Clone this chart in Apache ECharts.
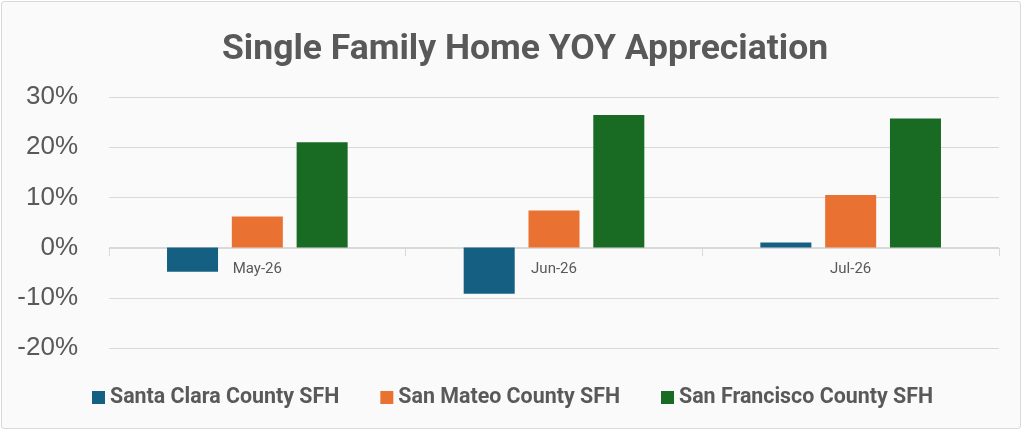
<!DOCTYPE html>
<html>
<head>
<meta charset="utf-8">
<script src="https://cdn.jsdelivr.net/npm/echarts@6/dist/echarts.min.js"></script>
<style>
html,body{margin:0;padding:0;background:#fff;}
#wrap{position:absolute;left:1px;top:1px;width:1020px;height:428px;border:1px solid #d9d9d9;border-radius:3px;background:#fafafa;box-sizing:border-box;}
#chart{width:1020px;height:428px;position:absolute;left:-1px;top:-1px;}
</style>
</head>
<body>
<div id="wrap"><div id="chart"></div></div>
<script>
const categories = ['May-26', 'Jun-26', 'Jul-26'];
const seriesNames = ['Santa Clara County SFH', 'San Mateo County SFH', 'San Francisco County SFH'];
const santaClara = [-4.8, -9.2, 1.0];
const sanMateo = [6.2, 7.4, 10.5];
const sanFrancisco = [21.0, 26.4, 25.7];
const colors = ['#156082', '#e97132', '#196b24'];

const FONT = '"Roboto", sans-serif';
const chart = echarts.init(document.getElementById('chart'));
const data = [santaClara, sanMateo, sanFrancisco];
chart.setOption({
  backgroundColor: 'transparent',
  animation: false,
  color: colors,
  title: {
    text: 'Single Family Home YOY Appreciation',
    left: 216,
    top: 26,
    textStyle: {fontFamily: FONT, fontSize: 35.5, fontWeight: 'bold', color: '#595959'}
  },
  legend: {
    data: seriesNames,
    left: 86, top: 381,
    icon: 'rect', itemWidth: 13, itemHeight: 13, itemGap: 41,
    textStyle: {fontFamily: FONT, fontSize: 21.4, fontWeight: 'bold', color: '#595959'}
  },
  grid: {left: 108, right: 22, top: 96, bottom: 81, containLabel: false},
  xAxis: {
    type: 'category',
    data: categories,
    position: 'bottom',
    offset: -100,
    axisLine: {onZero: false, lineStyle: {color: '#d9d9d9'}},
    axisTick: {show: true, length: 8, lineStyle: {color: '#d9d9d9'}},
    axisLabel: {fontFamily: FONT, fontSize: 15, color: '#595959', margin: 14},
    splitLine: {show: false}
  },
  yAxis: {
    type: 'value',
    min: -20, max: 30, interval: 10,
    axisLine: {show: false},
    axisTick: {show: false},
    axisLabel: {formatter: '{value}%', fontFamily: '"Liberation Sans", Arial, sans-serif', fontSize: 26, color: '#595959', margin: 31},
    splitLine: {lineStyle: {color: '#d9d9d9', width: 1}}
  },
  series: seriesNames.map((n, i) => ({
    name: n,
    type: 'bar',
    data: data[i],
    barWidth: '17.2%',
    barGap: '27%',
    itemStyle: {color: colors[i]}
  }))
});
</script>
</body>
</html>
